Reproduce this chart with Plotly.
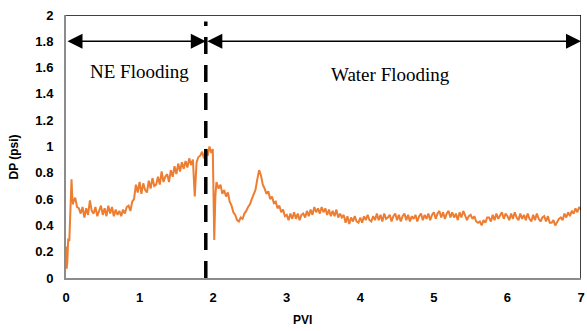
import numpy as np
import plotly.graph_objects as go

# ---- data ----
# start-up segment (irregular sampling)
pvi_start = [0.0, 0.008, 0.018, 0.03, 0.045, 0.06, 0.075, 0.085, 0.095]
dp_start = [0.24, 0.07, 0.12, 0.30, 0.28, 0.50, 0.75, 0.62, 0.56]

# NE flooding, sampled every 0.025 PVI from 0.100 to 1.975
dp_ne = [
    0.58, 0.61, 0.54, 0.53, 0.49, 0.54, 0.46, 0.53, 0.48, 0.59,
    0.51, 0.49, 0.54, 0.47, 0.52, 0.55, 0.48, 0.53, 0.47, 0.55,
    0.49, 0.54, 0.47, 0.52, 0.48, 0.51, 0.47, 0.52, 0.49, 0.54,
    0.55, 0.51, 0.58, 0.60, 0.71, 0.65, 0.73, 0.64, 0.72, 0.67,
    0.65, 0.74, 0.68, 0.76, 0.70, 0.71, 0.77, 0.71, 0.81, 0.73,
    0.77, 0.79, 0.73, 0.82, 0.77, 0.85, 0.79, 0.87, 0.81, 0.88,
    0.83, 0.89, 0.84, 0.91, 0.86, 0.90, 0.62, 0.88, 0.92, 0.93,
    0.96, 0.91, 0.98, 0.93, 1.00, 0.95,
]
# switch-over spike (irregular sampling)
pvi_switch = [1.995, 2.005, 2.015, 2.03, 2.045]
dp_switch = [0.98, 0.55, 0.29, 0.62, 0.73]

# water flooding, sampled every 0.025 PVI from 2.075 to 7.000
dp_wf = [
    0.68, 0.71, 0.64, 0.67, 0.62, 0.65, 0.58, 0.55, 0.50, 0.48,
    0.44, 0.43, 0.46, 0.45, 0.49, 0.51, 0.54, 0.56, 0.60, 0.63,
    0.67, 0.75, 0.82, 0.78, 0.71, 0.68, 0.64, 0.66, 0.60, 0.62,
    0.57, 0.58, 0.53, 0.55, 0.50, 0.52, 0.47,
    0.48, 0.44, 0.49, 0.45, 0.50, 0.45, 0.49, 0.44, 0.48, 0.49,
    0.46, 0.51, 0.47, 0.52, 0.48, 0.54, 0.50, 0.53, 0.49, 0.54,
    0.50, 0.53, 0.48, 0.52, 0.47, 0.51, 0.47, 0.52, 0.46, 0.49,
    0.46, 0.48, 0.42, 0.47, 0.41, 0.46, 0.43, 0.47, 0.43, 0.42,
    0.46, 0.42, 0.47, 0.44, 0.48, 0.44, 0.43, 0.47, 0.44, 0.49,
    0.44, 0.48, 0.43, 0.49, 0.45, 0.46, 0.48, 0.43, 0.47, 0.49,
    0.44, 0.48, 0.43, 0.47, 0.49, 0.44, 0.48, 0.43, 0.47, 0.45,
    0.48, 0.43, 0.47, 0.49, 0.44, 0.48, 0.45, 0.49, 0.44, 0.48,
    0.50, 0.45, 0.49, 0.51, 0.46, 0.50, 0.45, 0.49, 0.51, 0.46,
    0.50, 0.46, 0.49, 0.44, 0.50, 0.46, 0.51, 0.47, 0.44, 0.47,
    0.48, 0.45, 0.47, 0.43, 0.42, 0.43, 0.40, 0.44, 0.42, 0.46,
    0.46, 0.43, 0.48, 0.44, 0.49, 0.45, 0.48, 0.50, 0.45, 0.49,
    0.47, 0.44, 0.49, 0.45, 0.50, 0.46, 0.44, 0.49, 0.45, 0.48,
    0.44, 0.49, 0.45, 0.43, 0.48, 0.44, 0.49, 0.45, 0.43, 0.46,
    0.47, 0.43, 0.47, 0.42, 0.42, 0.44, 0.40, 0.43, 0.45, 0.46,
    0.44, 0.49, 0.46, 0.50, 0.47, 0.51, 0.49, 0.53, 0.50, 0.54,
    0.52,
]

switch_pvi = 1.9          # NE -> water switch
arrow_dp = 1.8
x_ticks = [0, 1, 2, 3, 4, 5, 6, 7]
x_tick_text = ["0", "1", "2", "3", "4", "5", "6", "7"]
y_ticks = [0, 0.2, 0.4, 0.6, 0.8, 1, 1.2, 1.4, 1.6, 1.8, 2]
y_tick_text = ["0", "0.2", "0.4", "0.6", "0.8", "1", "1.2", "1.4", "1.6", "1.8", "2"]

pvi_ne = [round(0.1 + 0.025 * i, 3) for i in range(len(dp_ne))]
pvi_wf = [round(2.075 + 0.025 * i, 3) for i in range(len(dp_wf))]

pvi = pvi_start + pvi_ne + pvi_switch + pvi_wf
dp = dp_start + dp_ne + dp_switch + dp_wf

# ---- figure ----
fig = go.Figure()
fig.add_trace(go.Scatter(x=pvi, y=dp, mode="lines",
                         line=dict(color="#ED7D31", width=2),
                         showlegend=False, hoverinfo="skip"))

tick_font = dict(family="Liberation Sans", size=13, color="#000000")
fig.update_xaxes(range=[0, 7], tickvals=x_ticks,
                 ticktext=["<b>%s</b>" % t for t in x_tick_text],
                 showgrid=False, zeroline=False,
                 showline=True, linecolor="#8c8c8c", linewidth=2,
                 ticks="", tickfont=tick_font, ticklabelstandoff=6,
                 ticklabeloverflow="allow")
fig.update_yaxes(range=[0, 2], tickvals=y_ticks,
                 ticktext=["<b>%s</b>" % t for t in y_tick_text],
                 showgrid=False, zeroline=False,
                 showline=True, linecolor="#8c8c8c", linewidth=2,
                 ticks="", tickfont=tick_font, ticklabelstandoff=8,
                 ticklabeloverflow="allow")

# top & right frame
fig.add_shape(type="line", xref="x", yref="y", x0=0, x1=7, y0=2, y1=2,
              line=dict(color="#000000", width=1.5))
fig.add_shape(type="line", xref="x", yref="y", x0=7, x1=7, y0=0, y1=2,
              line=dict(color="#000000", width=1.5))
# dashed switch line
fig.add_shape(type="line", xref="x", yref="y", x0=switch_pvi, x1=switch_pvi,
              y0=0, y1=1.95, line=dict(color="#000000", width=3.5, dash="17px,11px"))

# double arrows
for x0, x1 in [(0, switch_pvi), (switch_pvi, 7)]:
    fig.add_annotation(x=x1, y=arrow_dp, ax=x0, ay=arrow_dp, xref="x", yref="y",
                       axref="x", ayref="y", text="", showarrow=True,
                       arrowhead=2, startarrowhead=2, arrowside="end+start",
                       arrowsize=2, startarrowsize=2, arrowwidth=1.5,
                       arrowcolor="#000000", standoff=0, startstandoff=0)

serif = dict(family="Liberation Serif", size=19, color="#000000")
fig.add_annotation(x=1.0, y=1.57, xref="x", yref="y", text="NE Flooding",
                   showarrow=False, font=serif)
fig.add_annotation(x=4.41, y=1.55, xref="x", yref="y", text="Water Flooding",
                   showarrow=False, font=serif)

title_font = dict(family="Liberation Sans", size=12, color="#000000")
fig.add_annotation(x=0.46, y=-0.16, xref="paper", yref="paper", text="<b>PVI</b>",
                   showarrow=False, font=title_font, yanchor="middle")
fig.add_annotation(x=-0.1, y=0.46, xref="paper", yref="paper", text="<b>DP (psi)</b>",
                   showarrow=False, font=title_font, textangle=-90, xanchor="center")

fig.update_layout(width=587, height=331, margin=dict(l=66, r=2, t=15, b=53),
                  paper_bgcolor="white", plot_bgcolor="white",
                  font=dict(family="Liberation Sans"))

fig.write_html("out.html")
